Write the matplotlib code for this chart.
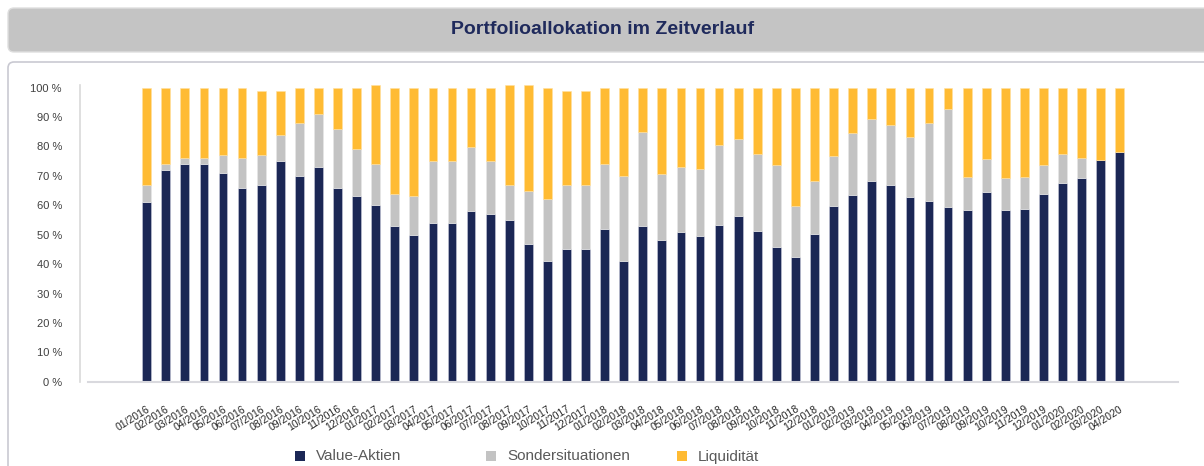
import matplotlib
matplotlib.use("Agg")
import matplotlib.pyplot as plt
from matplotlib.patches import FancyBboxPatch, Rectangle
import numpy as np

plt.rcParams['font.family'] = ['Liberation Sans', 'DejaVu Sans']

months = ["01/2016", "02/2016", "03/2016", "04/2016", "05/2016", "06/2016", "07/2016", "08/2016",
          "09/2016", "10/2016", "11/2016", "12/2016", "01/2017", "02/2017", "03/2017", "04/2017",
          "05/2017", "06/2017", "07/2017", "08/2017", "09/2017", "10/2017", "11/2017", "12/2017",
          "01/2018", "02/2018", "03/2018", "04/2018", "05/2018", "06/2018", "07/2018", "08/2018",
          "09/2018", "10/2018", "11/2018", "12/2018", "01/2019", "02/2019", "03/2019", "04/2019",
          "05/2019", "06/2019", "07/2019", "08/2019", "09/2019", "10/2019", "11/2019", "12/2019",
          "01/2020", "02/2020", "03/2020", "04/2020"]

value_aktien = [61, 72, 74, 74, 71, 66, 67, 75, 70, 73, 66, 63,
                60, 53, 50, 54, 54, 58, 57, 55, 47, 41, 45, 45,
                52, 41, 53, 48.2, 51, 49.4, 53.4, 56.2, 51.1, 45.7, 42.3, 50.3,
                59.6, 63.5, 68.4, 66.8, 62.7, 61.6, 59.4, 58.3, 64.4, 58.3, 58.8, 63.7,
                67.6, 69.3, 75.5, 78.1]

sondersituationen = [6, 2, 2, 2, 6, 10, 10, 9, 18, 18, 20, 16,
                     14, 11, 13, 21, 21, 22, 18, 12, 18, 21, 22, 22,
                     22, 29, 32, 22.3, 22, 22.8, 27.1, 26.2, 26.3, 27.9, 17.6, 18,
                     17.3, 21.2, 20.9, 20.5, 20.6, 26.3, 33.5, 11.2, 11.2, 11.1, 10.7, 10.1,
                     10, 6.7, 0, 0]

totals = [100, 100, 100, 100, 100, 100, 99, 99, 100, 100, 100, 100,
          101, 100, 100, 100, 100, 100, 100, 101, 101, 100, 99, 99,
          100, 100, 100, 100, 100, 100, 100, 100, 100, 100, 100, 100,
          100, 100, 100, 100, 100, 100, 100, 100, 100, 100, 100, 100,
          100, 100, 100, 100]

liquiditaet = [t - v - s for t, v, s in zip(totals, value_aktien, sondersituationen)]

series_names = ["Value-Aktien", "Sondersituationen", "Liquidität"]
colors = ["#1b2755", "#c3c3c3", "#ffbb33"]
title = "Portfolioallokation im Zeitverlauf"

W, H = 1204, 466
fig = plt.figure(figsize=(W / 100, H / 100), dpi=100)

# background overlay in pixel coordinates
bg = fig.add_axes([0, 0, 1, 1], zorder=0)
bg.set_xlim(0, W)
bg.set_ylim(H, 0)
bg.axis("off")
bg.add_patch(FancyBboxPatch((8, 8), 1220, 44, boxstyle="round,pad=0,rounding_size=6",
                            facecolor="#c4c4c4", edgecolor="#dedede", linewidth=1))
bg.add_patch(FancyBboxPatch((8, 62), 1220, 440, boxstyle="round,pad=0,rounding_size=6",
                            facecolor="white", edgecolor="#c9c9d2", linewidth=1.2))
bg.text(603, 30, title, ha="center", va="center", fontsize=14, fontweight="bold", color="#1f2a5c")

# legend (manual)
leg_x = [295, 486, 677]
for lx, name, c in zip(leg_x, series_names, colors):
    bg.add_patch(Rectangle((lx, 451), 10, 10, facecolor=c, edgecolor="none"))
    bg.text(lx + 21, 456.5, name, ha="left", va="center", fontsize=11, color="#595959")

# main axes
left_px, right_px, bottom_px, top_px = 80, 1178, 381.7, 80
ax = fig.add_axes([left_px / W, 1 - bottom_px / H, (right_px - left_px) / W, (bottom_px - top_px) / H],
                  zorder=1)
ax.patch.set_alpha(0)

x = np.arange(len(months))
pitch = 19.08
first = 146.7
ax.set_xlim((left_px - first) / pitch, (right_px - first) / pitch)
ax.set_ylim(0, (bottom_px - top_px) / 2.94)

bw = 0.46
b1 = ax.bar(x, value_aktien, width=bw, color=colors[0], edgecolor="#c8cadb", linewidth=0.4)
b2 = ax.bar(x, sondersituationen, width=bw, bottom=value_aktien, color=colors[1],
            edgecolor="#e8e8e8", linewidth=0.4)
bottom2 = [v + s for v, s in zip(value_aktien, sondersituationen)]
b3 = ax.bar(x, liquiditaet, width=bw, bottom=bottom2, color=colors[2], edgecolor="#ffe0a0", linewidth=0.4)

for s in ["top", "right"]:
    ax.spines[s].set_visible(False)
ax.spines["left"].set_color("#d9d9d9")
ax.spines["left"].set_linewidth(1.2)
ax.spines["left"].set_bounds(0, 101)
ax.spines["bottom"].set_color("#d9d9de")
ax.spines["bottom"].set_linewidth(1.5)
ax.spines["bottom"].set_bounds((88.3 - first) / pitch, (right_px - first) / pitch)

ax.set_yticks(np.arange(0, 101, 10))
ax.set_yticklabels([f"{v} %" for v in range(0, 101, 10)])
ax.tick_params(axis="y", length=0, pad=13, labelsize=8, labelcolor="#404040")

ax.set_xticks(x)
ax.set_xticklabels(months, rotation=32, ha="right", va="top", rotation_mode="anchor")
ax.tick_params(axis="x", length=0, pad=16, labelsize=7.5, labelcolor="#262626")
for lbl in ax.get_xticklabels():
    lbl.set_x(lbl.get_position()[0])

fig.savefig("out.png", dpi=100)
